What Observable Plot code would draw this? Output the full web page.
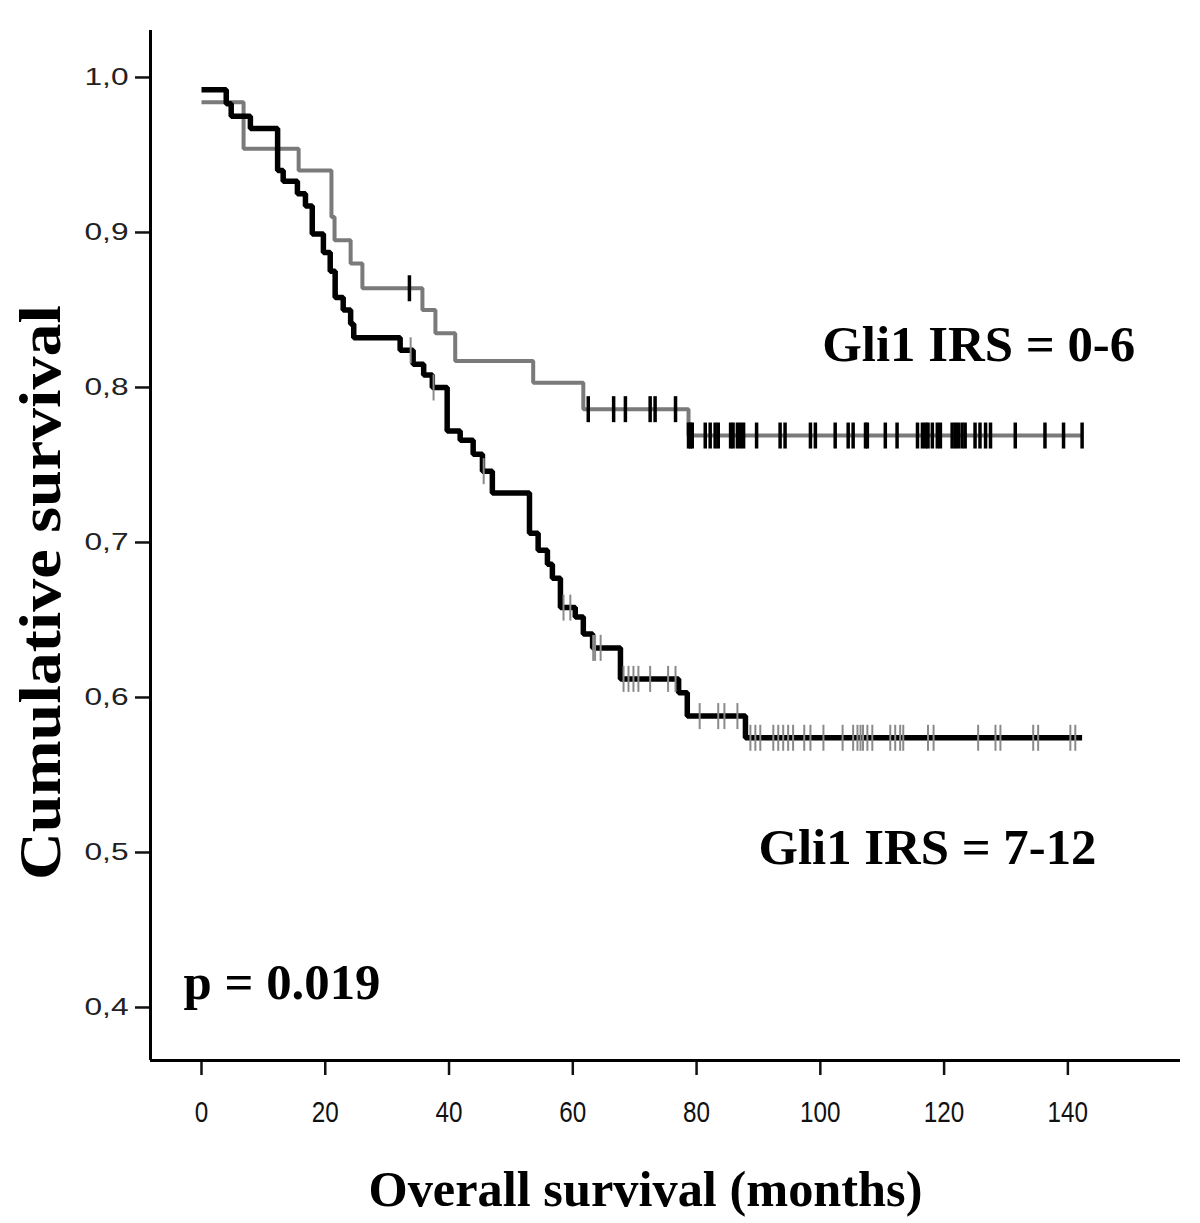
<!DOCTYPE html>
<html><head><meta charset="utf-8">
<script src="https://cdn.jsdelivr.net/npm/d3@7"></script>
<script src="https://cdn.jsdelivr.net/npm/@observablehq/plot@0.6"></script>
<style>body{margin:0;background:#fff}</style>
</head><body><div id="chart"></div>
<script>
// Group Gli1 IRS = 0-6 (gray curve)
const grayTimes = [0, 6.8, 15.7, 21.0, 21.5, 24.1, 26.0, 35.7, 37.8, 41.0, 53.6, 61.7, 78.7, 142.3];
const graySurv  = [0.984, 0.954, 0.940, 0.910, 0.895, 0.880, 0.864, 0.850, 0.835, 0.817, 0.803, 0.786, 0.769, 0.769];
const grayCensor = [33.6, 62.5, 66.6, 68.5, 72.5, 73.3, 76.6, 78.7, 79.0, 79.3, 81.4, 82.2, 83.0, 83.5, 85.5, 85.9, 86.6, 87.1, 87.6, 89.7, 93.5, 94.3, 98.4, 99.2, 102.4, 104.5, 105.3, 107.3, 107.6, 110.5, 112.4, 115.7, 116.5, 117.0, 117.4, 118.1, 118.9, 119.4, 121.3, 121.8, 122.3, 122.9, 123.4, 125.0, 125.8, 126.7, 127.5, 131.5, 136.3, 139.3, 142.3];

// Group Gli1 IRS = 7-12 (black curve)
const blackTimes = [0, 4.0, 4.8, 7.9, 12.3, 13.2, 15.5, 16.8, 17.9, 19.7, 20.8, 21.6, 22.9, 24.1, 24.6, 32.1, 34.2, 35.9, 37.3, 39.7, 41.8, 43.9, 45.4, 47.0, 53.0, 54.4, 55.9, 56.7, 58.0, 60.4, 61.7, 63.2, 67.7, 77.1, 78.5, 87.9, 142.3];
const blackSurv  = [0.992, 0.983, 0.975, 0.967, 0.940, 0.933, 0.925, 0.917, 0.899, 0.887, 0.875, 0.858, 0.850, 0.841, 0.832, 0.824, 0.815, 0.808, 0.800, 0.772, 0.766, 0.757, 0.746, 0.732, 0.706, 0.695, 0.686, 0.677, 0.658, 0.652, 0.641, 0.632, 0.612, 0.603, 0.588, 0.574, 0.574];
const blackCensor = [33.8, 37.5, 45.6, 58.5, 59.6, 63.3, 63.6, 64.5, 68.2, 69.0, 69.8, 70.6, 72.5, 75.4, 76.6, 80.5, 83.5, 84.5, 86.6, 88.7, 89.5, 90.3, 92.4, 93.2, 94.0, 94.8, 95.6, 97.4, 98.4, 100.5, 103.6, 105.3, 106.0, 106.5, 106.9, 107.6, 108.4, 111.3, 112.1, 112.9, 113.4, 117.4, 118.3, 125.5, 128.3, 129.1, 134.4, 135.2, 140.4, 141.2];

const xTicks = [0, 20, 40, 60, 80, 100, 120, 140];
const yTicks = [0.4, 0.5, 0.6, 0.7, 0.8, 0.9, 1.0];
const xDomain = [-8.24, 158.2];
const yDomain = [0.3658, 1.0303];

const groupLabels = [
  {t: 100.3, s: 0.8174, text: "Gli1 IRS = 0-6", len: 313},
  {t: 90.0, s: 0.4926, text: "Gli1 IRS = 7-12", len: 338}
];
const pLabel = [{t: -2.9, s: 0.4052, text: "p = 0.019", len: 197}];
const xTitle = "Overall survival (months)";
const yTitle = "Cumulative survival";

function stepValue(times, surv, t) {
  const i = d3.bisectRight(times, t) - 1;
  return surv[Math.max(0, i)];
}
const grayLine = grayTimes.map((t, i) => ({t, s: graySurv[i]}));
const blackLine = blackTimes.map((t, i) => ({t, s: blackSurv[i]}));
const grayCens = grayCensor.map(t => ({t, s: stepValue(grayTimes, graySurv, t)}));
const blackCens = blackCensor.map(t => ({t, s: stepValue(blackTimes, blackSurv, t)}));

const vbar = {draw(ctx) { ctx.moveTo(0, -13); ctx.lineTo(0, 13); }};

const serif = "'Liberation Serif', 'Times New Roman', serif";

const svg = Plot.plot({
  width: 1200,
  height: 1223,
  marginLeft: 150,
  marginRight: 20,
  marginTop: 30,
  marginBottom: 163,
  style: {fontFamily: "'Liberation Sans', Arial, sans-serif", fontSize: "19px", background: "white", color: "#111"},
  x: {domain: xDomain, ticks: xTicks},
  y: {domain: yDomain, ticks: yTicks},
  marks: [
    Plot.axisY({ticks: yTicks, tickSize: 15, tickPadding: 7, strokeWidth: 2.5,
      tickFormat: d => d.toFixed(1).replace(".", ","), label: null}),
    Plot.axisX({ticks: xTicks, tickSize: 15, tickPadding: 25, strokeWidth: 2.5,
      tickFormat: d => String(d), label: null}),
    Plot.ruleX([xDomain[0]], {stroke: "#000", strokeWidth: 3}),
    Plot.ruleY([yDomain[0]], {stroke: "#000", strokeWidth: 3}),
    Plot.line(grayLine, {x: "t", y: "s", curve: "step-after", stroke: "#7a7a7a", strokeWidth: 4, strokeLinejoin: "miter", strokeLinecap: "butt"}),
    Plot.line(blackLine, {x: "t", y: "s", curve: "step-after", stroke: "#000", strokeWidth: 5.5, strokeLinejoin: "miter", strokeLinecap: "butt"}),
    Plot.dot(grayCens, {x: "t", y: "s", symbol: vbar, stroke: "#000", fill: "none", strokeWidth: 3.5}),
    Plot.dot(blackCens, {x: "t", y: "s", symbol: vbar, stroke: "#8a8a8a", fill: "none", strokeWidth: 2}),
    Plot.text(groupLabels, {x: "t", y: "s", text: "text", textAnchor: "start", lineAnchor: "bottom",
      fontFamily: serif, fontWeight: "bold", fontSize: 50, fill: "#000"}),
    Plot.text(pLabel, {x: "t", y: "s", text: "text", textAnchor: "start", lineAnchor: "bottom",
      fontFamily: serif, fontWeight: "bold", fontSize: 50, fill: "#000"}),
    Plot.text([xTitle], {frameAnchor: "bottom", dx: -20, dy: 145, lineAnchor: "bottom", textAnchor: "middle",
      fontFamily: serif, fontWeight: "bold", fontSize: 50, fill: "#000"}),
    Plot.text([yTitle], {frameAnchor: "left", dx: -110, dy: 47, rotate: -90, lineAnchor: "middle", textAnchor: "middle",
      fontFamily: serif, fontWeight: "bold", fontSize: 60, fill: "#000"})
  ]
});

const lengths = new Map([[xTitle, 554], [yTitle, 575]]);
groupLabels.concat(pLabel).forEach(d => lengths.set(d.text, d.len));
d3.select(svg).selectAll("text").each(function() {
  const t = this.textContent;
  if (lengths.has(t)) {
    this.setAttribute("textLength", lengths.get(t));
    this.setAttribute("lengthAdjust", "spacingAndGlyphs");
  }
});
d3.select(svg).selectAll('g[aria-label="y-axis tick label"]').style("font-size", "23px").attr("fill", "#222");
d3.select(svg).selectAll('g[aria-label="y-axis tick label"] text').each(function() {
  this.style.fontSize = "23px";
  this.setAttribute("textLength", 44);
  this.setAttribute("lengthAdjust", "spacingAndGlyphs");
});
d3.select(svg).selectAll('g[aria-label="x-axis tick label"]').style("font-size", "30px").attr("fill", "#111");
d3.select(svg).selectAll('g[aria-label="x-axis tick label"] text').each(function() {
  this.style.fontSize = "30px";
  this.setAttribute("textLength", this.textContent.length * 13.5);
  this.setAttribute("lengthAdjust", "spacingAndGlyphs");
});
document.getElementById("chart").appendChild(svg);
</script>
</body></html>
